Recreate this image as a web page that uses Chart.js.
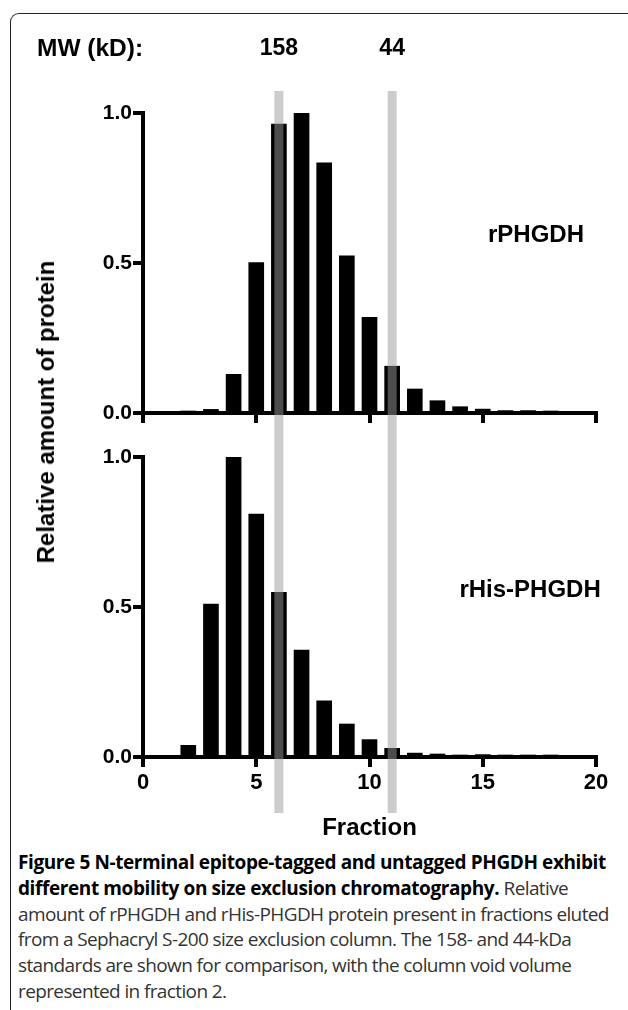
<!DOCTYPE html>
<html>
<head>
<meta charset="utf-8">
<script src="https://cdn.jsdelivr.net/npm/chart.js@4.4.1/dist/chart.umd.min.js"></script>
<style>
  body { margin: 0; width: 628px; height: 1010px; position: relative; background: #fff; overflow: hidden; }
  .frame { position: absolute; left: 10px; top: 13px; width: 700px; height: 1100px;
           border-left: 1.5px solid #222; border-top: 1.5px solid #222; border-top-left-radius: 9px; }
  #topWrap { position: absolute; left: 0; top: 0; width: 628px; height: 432px; }
  #botWrap { position: absolute; left: 0; top: 432px; width: 628px; height: 413px; }
  .ytitle { position: absolute; left: 46px; top: 412px; transform: translate(-50%, -50%) rotate(-90deg);
            font: bold 24px 'Liberation Sans', Arial, sans-serif; white-space: nowrap; color: #000; }
  .caption { position: absolute; left: 18px; top: 850px; font-family: 'Open Sans', sans-serif; font-size: 19px;
             line-height: 25.8px; color: #333; letter-spacing: -0.62px; white-space: nowrap; }
  .caption b { color: #000; letter-spacing: -0.4px; }
</style>
</head>
<body>
<div class="frame"></div>
<div id="topWrap"><canvas id="topChart"></canvas></div>
<div id="botWrap"><canvas id="botChart"></canvas></div>
<div class="ytitle">Relative amount of protein</div>
<div class="caption">
  <b>Figure 5 N-terminal epitope-tagged and untagged PHGDH exhibit</b><br>
  <b>different mobility on size exclusion chromatography.</b> Relative<br>
  amount of rPHGDH and rHis-PHGDH protein present in fractions eluted<br>
  from a Sephacryl S-200 size exclusion column. The 158- and 44-kDa<br>
  standards are shown for comparison, with the column void volume<br>
  represented in fraction 2.
</div>
<script>
// fraction numbers and relative amounts
const fractions = [1, 2, 3, 4, 5, 6, 7, 8, 9, 10, 11, 12, 13, 14, 15, 16, 17, 18, 19];
const rPHGDH = [0, 0.003, 0.012, 0.129, 0.501, 0.963, 1.0, 0.834, 0.524, 0.319, 0.156, 0.080, 0.041, 0.021, 0.013, 0.008, 0.008, 0.004, 0];
const rHisPHGDH = [0, 0.039, 0.51, 1.0, 0.81, 0.549, 0.356, 0.187, 0.11, 0.058, 0.029, 0.013, 0.010, 0.006, 0.008, 0.006, 0.004, 0.003, 0];
const xTicks = [0, 5, 10, 15, 20];
const yTicks = [0, 0.5, 1.0];
const standardFractions = [6, 11];
const standardLabels = ['158', '44'];

const FONT = "'Liberation Sans', Arial, sans-serif";

// grey bands for the MW standards, drawn over the bars
function standardsPlugin(yFrom, yTo, withHeader) {
    return {
        id: 'standards',
        afterDraw(chart) {
            const { ctx, scales: { x } } = chart;
            const bottom = yTo === null ? chart.height : yTo;
            ctx.save();
            standardFractions.forEach((f, i) => {
                const px = x.getPixelForValue(f);
                ctx.fillStyle = 'rgba(153,153,153,0.5)';
                ctx.fillRect(px - 4.5, yFrom, 9, bottom - yFrom);
                if (withHeader) {
                    ctx.fillStyle = '#000';
                    ctx.font = 'bold 23px ' + FONT;
                    ctx.textAlign = 'center';
                    ctx.textBaseline = 'middle';
                    ctx.fillText(standardLabels[i], px, 49);
                }
            });
            if (withHeader) {
                ctx.fillStyle = '#000';
                ctx.font = 'bold 24.5px ' + FONT;
                ctx.textAlign = 'left';
                ctx.textBaseline = 'middle';
                ctx.fillText('MW (kD):', 37, 49);
            }
            ctx.restore();
        }
    };
}

function panelLabelPlugin(text, xv, yv) {
    return {
        id: 'panelLabel',
        afterDatasetsDraw(chart) {
            const { ctx, scales: { x, y } } = chart;
            ctx.save();
            ctx.fillStyle = '#000';
            ctx.font = 'bold 24px ' + FONT;
            ctx.textAlign = 'center';
            ctx.textBaseline = 'middle';
            ctx.fillText(text, x.getPixelForValue(xv), y.getPixelForValue(yv));
            ctx.restore();
        }
    };
}

function makePanel(id, values, opt) {
    const ctx = document.getElementById(id).getContext('2d');
    return new Chart(ctx, {
        type: 'bar',
        data: {
            datasets: [{
                data: fractions.map((f, i) => ({ x: f, y: values[i] })),
                backgroundColor: '#000',
                borderWidth: 0,
                barThickness: 15
            }]
        },
        options: {
            responsive: true,
            maintainAspectRatio: false,
            animation: false,
            layout: { padding: { top: opt.padTop, right: 32, left: 0, bottom: 0 } },
            plugins: { legend: { display: false }, tooltip: { enabled: false } },
            scales: {
                x: {
                    type: 'linear',
                    min: 0, max: 20,
                    offset: false,
                    afterBuildTicks: s => { s.ticks = xTicks.map(v => ({ value: v })); },
                    afterFit: s => { s.height = opt.xHeight; },
                    grid: { display: true, drawOnChartArea: false, drawTicks: true, tickLength: 10, lineWidth: 4, color: '#000', offset: false },
                    border: { display: true, width: 4, color: '#000' },
                    ticks: { display: opt.showXLabels, color: '#000', padding: 3, font: { family: FONT, size: 22, weight: 'bold' } },
                    title: {
                        display: opt.showXLabels,
                        text: 'Fraction',
                        color: '#000',
                        padding: { top: 0, bottom: 2.6 },
                        font: { family: FONT, size: 24, weight: 'bold' }
                    }
                },
                y: {
                    min: 0, max: 1,
                    afterBuildTicks: s => { s.ticks = yTicks.map(v => ({ value: v })); },
                    afterFit: s => { s.width = 143; },
                    grid: { display: true, drawOnChartArea: false, drawTicks: true, tickLength: 10, lineWidth: 4, color: '#000' },
                    border: { display: true, width: 4, color: '#000' },
                    ticks: {
                        color: '#000', padding: 1,
                        font: { family: FONT, size: 21, weight: 'bold' },
                        callback: v => v.toFixed(1)
                    }
                }
            }
        },
        plugins: [opt.labelPlugin, opt.bandPlugin]
    });
}

makePanel('topChart', rPHGDH, {
    padTop: 113, xHeight: 19, showXLabels: false,
    labelPlugin: panelLabelPlugin('rPHGDH', 17.35, 0.593),
    bandPlugin: standardsPlugin(91, null, true)
});

makePanel('botChart', rHisPHGDH, {
    padTop: 25, xHeight: 88, showXLabels: true,
    labelPlugin: panelLabelPlugin('rHis-PHGDH', 17.09, 0.557),
    bandPlugin: standardsPlugin(0, 381, false)
});
</script>
</body>
</html>
